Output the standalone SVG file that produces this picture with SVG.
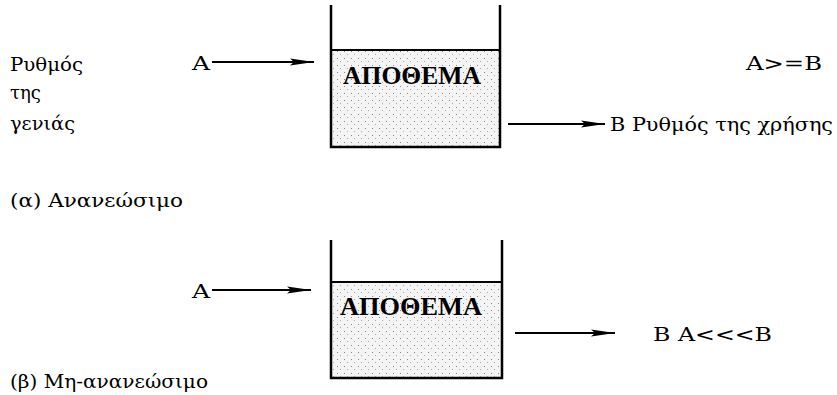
<svg xmlns="http://www.w3.org/2000/svg" width="837" height="395" viewBox="0 0 837 395">
<defs>
<style>
.t{font-family:"DejaVu Serif","Liberation Serif",serif;font-weight:normal;fill:#000;font-size:19px}
.h{font-family:"Liberation Serif","DejaVu Serif","Times New Roman",serif;fill:#000;font-size:25px;font-weight:bold}
.wall{fill:none;stroke:#000;stroke-width:2.5}
.ln{fill:none;stroke:#000;stroke-width:2}
.con{stroke:#000;stroke-width:2;fill:none;marker-end:url(#ah)}
</style>
<pattern id="dots" width="7" height="7" patternUnits="userSpaceOnUse">
<rect width="7" height="7" fill="#f4f4f4"/>
<rect x="1" y="2" width="1" height="1" fill="#888"/>
<rect x="4" y="5" width="1" height="1" fill="#aaa"/>
</pattern>
<marker id="ah" viewBox="0 0 24 8" refX="24" refY="4" markerWidth="24" markerHeight="8" markerUnits="userSpaceOnUse" orient="auto">
<path d="M0,0.5 L24,4 L0,7.5 L4,4 Z" fill="#000"/>
</marker>
</defs>
<rect width="837" height="395" fill="#fff"/>

<g id="label-a">
<text class="t" x="10" y="71" textLength="73" lengthAdjust="spacingAndGlyphs">Ρυθμός</text>
<text class="t" x="10" y="99" textLength="31" lengthAdjust="spacingAndGlyphs">της</text>
<text class="t" x="10" y="130" textLength="65" lengthAdjust="spacingAndGlyphs">γενιάς</text>
<text class="t" x="192" y="70" textLength="18" lengthAdjust="spacingAndGlyphs">Α</text>
<text class="t" x="746" y="70" textLength="76" lengthAdjust="spacingAndGlyphs">Α&gt;=Β</text>
<text class="t" x="610" y="131" textLength="223" lengthAdjust="spacingAndGlyphs">Β Ρυθμός της χρήσης</text>
<text class="t" x="10" y="207" textLength="173" lengthAdjust="spacingAndGlyphs">(α) Ανανεώσιμο</text>
</g>

<g id="tank-a">
<rect x="331" y="50" width="169" height="97" fill="url(#dots)"/>
<path class="wall" d="M331,5 V147 H500 V5"/>
<line class="ln" x1="331" y1="50" x2="500" y2="50"/>
<text class="h" x="343" y="84" textLength="138" lengthAdjust="spacingAndGlyphs">ΑΠΟΘΕΜΑ</text>
</g>

<g id="label-b">
<text class="t" x="192" y="298" textLength="18" lengthAdjust="spacingAndGlyphs">Α</text>
<text class="t" x="653" y="341" textLength="119" lengthAdjust="spacingAndGlyphs">Β Α&lt;&lt;&lt;Β</text>
<text class="t" x="10" y="388" textLength="198" lengthAdjust="spacingAndGlyphs">(β) Μη-ανανεώσιμο</text>
</g>

<g id="tank-b">
<rect x="331" y="282" width="171" height="96" fill="url(#dots)"/>
<path class="wall" d="M331,240 V378 H502 V240"/>
<line class="ln" x1="331" y1="282" x2="502" y2="282"/>
<text class="h" x="340" y="315" textLength="142" lengthAdjust="spacingAndGlyphs">ΑΠΟΘΕΜΑ</text>
</g>

<g id="connectors">
<line class="con" x1="212" y1="62" x2="314" y2="62"/>
<line class="con" x1="508" y1="124" x2="605" y2="124"/>
<line class="con" x1="212" y1="290" x2="311" y2="290"/>
<line class="con" x1="515" y1="333" x2="615" y2="333"/>
</g>
</svg>
